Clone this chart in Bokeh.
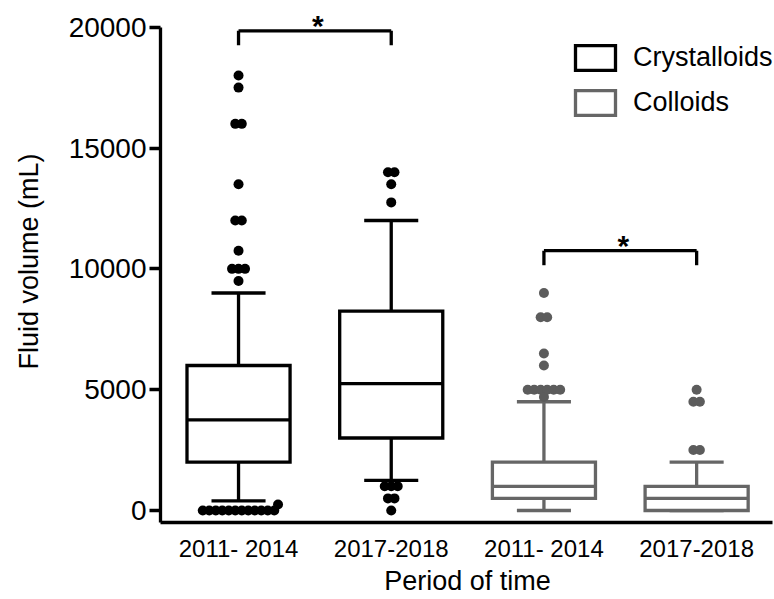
from bokeh.plotting import figure
from bokeh.models import FixedTicker, Legend, LegendItem, ColumnDataSource, Range1d
from bokeh.embed import file_html
from bokeh.resources import INLINE
from bokeh.core.properties import value

# ---------------- data ----------------
categories = ["2011- 2014", "2017-2018", "2011- 2014", "2017-2018"]
groups = ["Crystalloids", "Crystalloids", "Colloids", "Colloids"]
q1 = [2000, 3000, 500, 0]
median = [3750, 5250, 1000, 500]
q3 = [6000, 8250, 2000, 1000]
whisker_low = [400, 1250, 0, 0]
whisker_high = [9000, 12000, 4500, 2000]
outliers_cry_2011 = [18000, 17500, 16000, 16000, 13500, 12000, 12000, 10750,
                     10000, 10000, 10000, 9500, 250] + [0] * 12
outliers_cry_2017 = [14000, 14000, 13500, 12750, 1000, 1000, 1000, 500, 500, 0]
outliers_col_2011 = [9000, 8000, 8000, 6500, 6000] + [5000] * 6 + [4700]
outliers_col_2017 = [5000, 4500, 4500, 2500, 2500]
outliers = [outliers_cry_2011, outliers_cry_2017, outliers_col_2011, outliers_col_2017]

y_ticks = [0, 5000, 10000, 15000, 20000]

bracket_left = [1, 3]
bracket_right = [2, 4]
bracket_top = [19850, 10750]
bracket_leg = [19250, 10150]
bracket_text = ["*", "*"]

# ---------------- layout / style ----------------
W, H = 774, 599
BL, BB = 160, 77
FW, FH = W - BL, H - BB
X0 = 0.489
X1 = X0 + FW / 152.7
Y0, Y1 = -497, 21105
PX_X = FW / (X1 - X0)
PX_Y = FH / (Y1 - Y0)
BW, CW = 0.675, 0.354
LW = 3.3
FONT = "Liberation Sans"
colors = {"Crystalloids": "#000000", "Colloids": "#666666"}
dot_colors = {"Crystalloids": "#000000", "Colloids": "#5c5c5c"}


def swarm(vals, d=7.0, step=6.5):
    """Beeswarm offsets (in px) for a list of values; equal values in rows."""
    placed, res = [], []
    uniq = sorted(set(vals), key=lambda v: (-vals.count(v), -v))
    cands = [0.0] + [s * m * 0.5 for m in range(1, 400) for s in (1, -1)]
    for v in uniq:
        n = vals.count(v)
        row = [(i - (n - 1) / 2) * step for i in range(n)]
        yp = v * PX_Y
        for c in cands:
            if all((r + c - px) ** 2 + (yp - qy) ** 2 >= d * d - 1e-6
                   for r in row for (px, qy) in placed):
                break
        for r in row:
            placed.append((r + c, yp))
            res.append((v, r + c))
    return res


p = figure(width=W, height=H, x_range=Range1d(X0, X1), y_range=Range1d(Y0, Y1),
           output_backend="svg", toolbar_location=None,
           min_border_left=BL, min_border_right=0, min_border_top=0,
           min_border_bottom=BB)
p.outline_line_color = None
p.grid.visible = False

# y axis
ya = p.yaxis[0]
ya.ticker = FixedTicker(ticks=y_ticks)
ya.major_label_overrides = {t: str(t) for t in y_ticks}
ya.bounds = (Y0, max(y_ticks))
ya.axis_line_width = LW
ya.major_tick_line_width = LW
ya.major_tick_out = 11
ya.major_tick_in = 0
ya.minor_tick_out = 0
ya.minor_tick_in = 0
ya.major_label_standoff = 3
ya.major_label_text_font = FONT
ya.major_label_text_font_size = "28px"
ya.major_label_text_color = "black"
ya.axis_label = "Fluid volume (mL)"
ya.axis_label_text_font = FONT
ya.axis_label_text_font_size = "27px"
ya.axis_label_text_font_style = "normal"
ya.axis_label_text_color = "black"
ya.axis_label_standoff = 22

# x axis
xa = p.xaxis[0]
xa.ticker = FixedTicker(ticks=[1, 2, 3, 4])
xa.major_label_overrides = {i + 1: c for i, c in enumerate(categories)}
xa.bounds = (X0, 4.497)
xa.axis_line_width = LW
xa.major_tick_out = 0
xa.major_tick_in = 0
xa.minor_tick_out = 0
xa.minor_tick_in = 0
xa.major_label_standoff = 12
xa.major_label_text_font = FONT
xa.major_label_text_font_size = "24px"
xa.major_label_text_color = "black"
xa.axis_label = "Period of time"
xa.axis_label_text_font = FONT
xa.axis_label_text_font_size = "27px"
xa.axis_label_text_font_style = "normal"
xa.axis_label_text_color = "black"
xa.axis_label_standoff = 1

box_renderers = {}
for name in ["Crystalloids", "Colloids"]:
    idx = [i for i, g in enumerate(groups) if g == name]
    xs = [i + 1 for i in idx]
    col = colors[name]
    src = ColumnDataSource(dict(
        x=xs,
        l=[x - BW / 2 for x in xs], r=[x + BW / 2 for x in xs],
        cl=[x - CW / 2 for x in xs], cr=[x + CW / 2 for x in xs],
        q1=[q1[i] for i in idx], q3=[q3[i] for i in idx],
        med=[median[i] for i in idx],
        wl=[whisker_low[i] for i in idx], wh=[whisker_high[i] for i in idx],
    ))
    seg_kw = dict(source=src, line_color=col, line_width=LW, line_cap="butt")
    p.segment(x0="x", y0="q3", x1="x", y1="wh", **seg_kw)
    p.segment(x0="x", y0="q1", x1="x", y1="wl", **seg_kw)
    p.segment(x0="cl", y0="wh", x1="cr", y1="wh", **seg_kw)
    p.segment(x0="cl", y0="wl", x1="cr", y1="wl", **seg_kw)
    box_renderers[name] = p.quad(left="l", right="r", bottom="q1", top="q3",
                                 source=src, fill_color="white", line_color=col,
                                 line_width=LW, line_join="miter")
    p.segment(x0="l", y0="med", x1="r", y1="med", **seg_kw)

    ox, oy = [], []
    for i in idx:
        for v, off in swarm(outliers[i]):
            ox.append(i + 1 + off / PX_X)
            oy.append(v)
    p.scatter(x=ox, y=oy, marker="circle", size=10,
              fill_color=dot_colors[name], line_color=None)

# significance brackets
bx0, by0, bx1, by1 = [], [], [], []
for a, b, t, lg in zip(bracket_left, bracket_right, bracket_top, bracket_leg):
    bx0 += [a, a, b]
    bx1 += [b, a, b]
    by0 += [t, t, t]
    by1 += [t, lg, lg]
p.segment(x0=bx0, y0=by0, x1=bx1, y1=by1, line_color="black", line_width=LW,
          line_cap="butt")
p.text(x=[(a + b) / 2 + 0.02 for a, b in zip(bracket_left, bracket_right)],
       y=bracket_top, text=bracket_text, text_font=value(FONT),
       text_font_size="30px", text_font_style="bold", text_align="center",
       text_baseline="alphabetic", text_color="black", y_offset=-5)

legend = Legend(items=[LegendItem(label="Crystalloids", renderers=[box_renderers["Crystalloids"]]),
                       LegendItem(label="Colloids", renderers=[box_renderers["Colloids"]])],
                location=(410, 404), orientation="vertical",
                glyph_width=50, glyph_height=31, label_standoff=13, spacing=14,
                padding=0, margin=0, border_line_color=None,
                background_fill_alpha=0, label_text_font=FONT,
                label_text_font_size="27px", label_text_color="black",
                label_height=31)
p.add_layout(legend)

open("out.html", "w").write(file_html(p, INLINE))
